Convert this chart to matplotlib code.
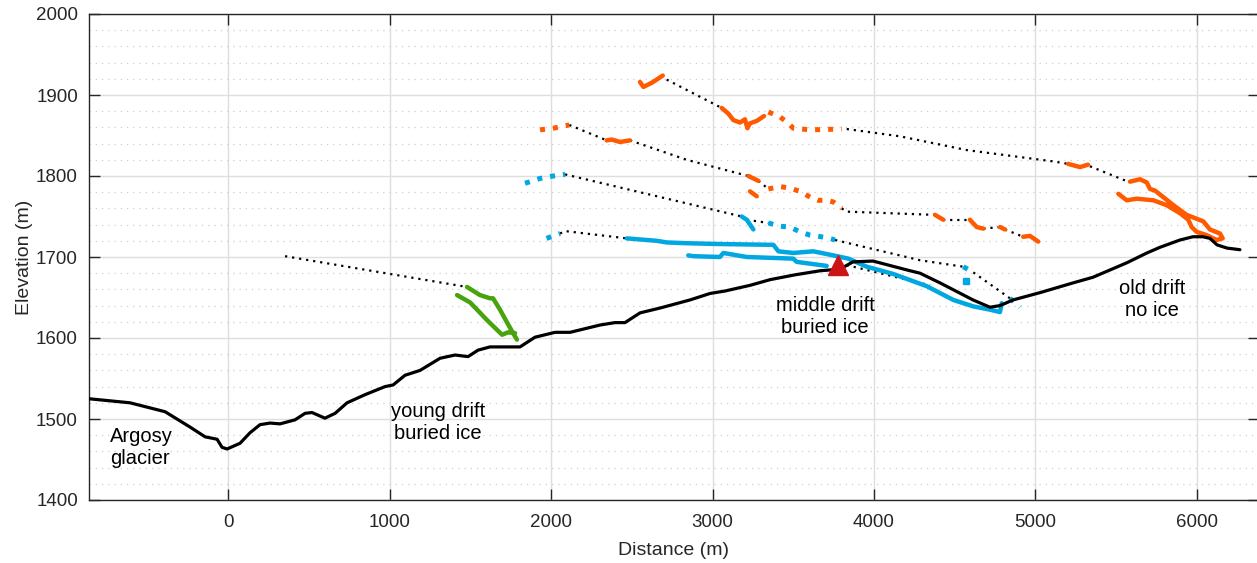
import matplotlib.pyplot as plt
from matplotlib.ticker import MultipleLocator

plt.rcParams['font.family'] = ['Liberation Sans', 'DejaVu Sans']

# ground surface along the transect
surface_x = [-861, -607, -390, -235, -142, -68, -37, -6, 74, 136, 198, 260, 322, 415, 477, 520,
             600, 663, 737, 848, 972, 1022, 1096, 1189, 1313, 1406, 1486, 1548, 1622, 1808, 1901,
             2025, 2118, 2303, 2396, 2458, 2551, 2675, 2861, 2985, 3077, 3232, 3356, 3511, 3666,
             3789, 3870, 3994, 4204, 4285, 4409, 4613, 4718, 4780, 4861, 5028, 5232, 5356, 5567,
             5690, 5771, 5895, 5975, 6037, 6080, 6124, 6186, 6266]
surface_y = [1525, 1520, 1509, 1490, 1478, 1475, 1465, 1463, 1470, 1483, 1493, 1495, 1494, 1499,
             1507, 1508, 1501, 1507, 1520, 1530, 1540, 1542, 1554, 1560, 1575, 1579, 1577, 1585,
             1589, 1589, 1601, 1607, 1607, 1616, 1619, 1619, 1631, 1637, 1647, 1655, 1658, 1665,
             1672, 1678, 1683, 1685, 1694, 1695, 1684, 1680, 1668, 1647, 1638, 1640, 1647, 1656,
             1668, 1675, 1693, 1705, 1712, 1721, 1725, 1725, 1723, 1715, 1711, 1709]

# reflector picks (x list, y list) per segment
orange_solid = [
    ([2551, 2572, 2623, 2654, 2692], [1916, 1910, 1915, 1919, 1924]),
    ([3057, 3098, 3129, 3170, 3201, 3216, 3232, 3274, 3319],
     [1884, 1877, 1869, 1866, 1870, 1859, 1865, 1868, 1874]),
    ([5201, 5276, 5325], [1815, 1811, 1814]),
    ([5585, 5647, 5689, 5709, 5740, 5854, 5936, 6039, 6080, 6142, 6159, 6122,
      6060, 5998, 5967, 5946, 5895, 5812, 5730, 5627, 5565, 5513],
     [1793, 1796, 1792, 1784, 1782, 1764, 1752, 1744, 1734, 1729, 1723, 1721,
      1727, 1731, 1737, 1746, 1754, 1764, 1770, 1772, 1770, 1778]),
    ([2345, 2376, 2427, 2489], [1844, 1845, 1842, 1844]),
    ([3222, 3284], [1800, 1794]),
    ([3232, 3253, 3274], [1781, 1778, 1775]),
    ([4378, 4429], [1752, 1746]),
    ([4594, 4636, 4677], [1746, 1737, 1735]),
    ([4780, 4811], [1737, 1734]),
    ([4924, 4966, 5017], [1725, 1726, 1719]),
]
orange_dotted = [
    ([3346, 3418, 3470, 3500, 3604, 3800], [1879, 1873, 1865, 1859, 1857, 1858]),
    ([1932, 2014, 2113], [1857, 1859, 1863]),
    ([3346, 3418, 3480, 3542, 3604, 3655, 3707, 3748, 3800],
     [1784, 1787, 1785, 1781, 1774, 1770, 1770, 1768, 1760]),
]
blue_solid = [
    ([3181, 3212, 3253], [1750, 1746, 1734]),
    ([2469, 2654, 2716, 2840, 3046, 3377, 3408, 3500, 3624, 3748, 3841, 3955, 4120, 4326,
      4491, 4615, 4718, 4780, 4791],
     [1723, 1720, 1718, 1717, 1716, 1715, 1707, 1705, 1707, 1702, 1698, 1688, 1679, 1664,
      1647, 1639, 1635, 1632, 1643]),
    ([2850, 2881, 3046, 3067, 3212, 3500, 3521, 3707],
     [1702, 1701, 1700, 1705, 1700, 1698, 1694, 1689]),
]
blue_dotted = [
    ([1839, 1932, 2014, 2087], [1791, 1797, 1800, 1802]),
    ([3346, 3418, 3480, 3542, 3604, 3707, 3759], [1742, 1738, 1737, 1731, 1727, 1724, 1721]),
    ([4553, 4615], [1688, 1681]),
    ([4842, 4904], [1649, 1638]),
    ([1972, 2056], [1723, 1729]),
]
blue_point = ([4567], [1670])
green_solid = [
    ([1418, 1498, 1542, 1604, 1697, 1734, 1777], [1653, 1644, 1635, 1622, 1604, 1607, 1606]),
    ([1480, 1560, 1622, 1641, 1684, 1728, 1765, 1789],
     [1663, 1653, 1649, 1649, 1635, 1619, 1606, 1598]),
]
# interpolated gaps between picks
gaps = [
    ([2716, 3057], [1919, 1884]),
    ([3831, 4161, 4574, 5110, 5201], [1858, 1849, 1832, 1818, 1815]),
    ([5337, 5573], [1812, 1793]),
    ([2113, 2345], [1863, 1844]),
    ([2489, 2840, 3222], [1844, 1820, 1800]),
    ([3284, 3346], [1794, 1784]),
    ([3800, 3831, 4378], [1760, 1756, 1752]),
    ([4429, 4594], [1746, 1746]),
    ([4677, 4780], [1735, 1737]),
    ([4811, 4924], [1734, 1725]),
    ([2087, 3181], [1802, 1750]),
    ([3212, 3346], [1746, 1742]),
    ([3759, 4285, 4553], [1721, 1696, 1688]),
    ([4615, 4842], [1681, 1649]),
    ([2056, 2087, 2469], [1729, 1732, 1723]),
    ([3831, 4347], [1690, 1665]),
    ([353, 1480], [1701, 1663]),
]
site_x, site_y = 3777, 1690

labels = ['Argosy\nglacier', 'young drift\nburied ice', 'middle drift\nburied ice', 'old drift\nno ice']
label_x = [-731, 1300, 3697, 5721]
label_y = [1465, 1496, 1627, 1647]
label_ha = ['left', 'center', 'center', 'center']

ORANGE = '#FF5A00'
BLUE = '#00A7E1'
GREEN = '#48A30E'
INK = '#262626'

fig = plt.figure(figsize=(12.57, 5.63), dpi=100)
ax = fig.add_axes([89 / 1257, 63 / 563, 1170 / 1257, 486 / 563])

round_ends = dict(solid_capstyle='round', solid_joinstyle='round')
for x, y in gaps:
    ax.plot(x, y, color='black', lw=1.6, linestyle=(0, (1, 2.2)), zorder=3)
for x, y in orange_solid:
    ax.plot(x, y, color=ORANGE, lw=3.2, zorder=4, **round_ends)
for x, y in orange_dotted:
    ax.plot(x, y, color=ORANGE, lw=3.6, linestyle=(0, (1, 1.6)), zorder=4)
for x, y in blue_solid:
    ax.plot(x, y, color=BLUE, lw=3.2, zorder=4, **round_ends)
for x, y in blue_dotted:
    ax.plot(x, y, color=BLUE, lw=3.6, linestyle=(0, (1, 1.6)), zorder=4)
ax.plot(*blue_point, 's', color=BLUE, ms=4, zorder=4)
for x, y in green_solid:
    ax.plot(x, y, color=GREEN, lw=3.2, zorder=4, **round_ends)

ax.plot(surface_x, surface_y, color='black', lw=2.3, zorder=5, **round_ends)
ax.plot(site_x, site_y, '^', color='#CC1418', ms=14, zorder=6)

for t, x, y, ha in zip(labels, label_x, label_y, label_ha):
    ax.text(x, y, t, ha=ha, va='center', fontsize=14.5, linespacing=1.2)

ax.set_xlim(-861, 6384)
ax.set_ylim(1400, 2000)
ax.xaxis.set_major_locator(MultipleLocator(1000))
ax.yaxis.set_major_locator(MultipleLocator(100))
ax.yaxis.set_minor_locator(MultipleLocator(20))
ax.grid(which='major', color='#dedede', lw=1.0, zorder=0)
ax.grid(which='minor', axis='y', color='#cfcfcf', lw=0.9, linestyle=(0, (1, 4)), zorder=0)
ax.set_axisbelow(True)

ax.tick_params(which='major', direction='in', length=8, width=1, color=INK,
               labelcolor=INK, labelsize=13.5, top=True, right=True)
ax.tick_params(axis='x', pad=10)
ax.tick_params(axis='y', pad=8)
ax.tick_params(which='minor', length=0)
for s in ax.spines.values():
    s.set_color(INK)
    s.set_linewidth(1.0)

ax.set_xlabel('Distance (m)', fontsize=14, color=INK, labelpad=8)
ax.set_ylabel('Elevation (m)', fontsize=14, color=INK, labelpad=2)

fig.savefig('out.png', dpi=100)
